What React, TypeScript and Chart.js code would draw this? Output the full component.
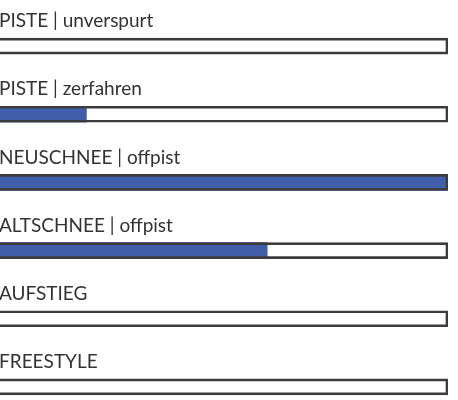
import React, { useEffect, useRef } from "react";
import { Chart, registerables } from "chart.js";

Chart.register(...registerables);

const categories = [
  "PISTE | unverspurt",
  "PISTE | zerfahren",
  "NEUSCHNEE | offpist",
  "ALTSCHNEE | offpist",
  "AUFSTIEG",
  "FREESTYLE",
];
const ratingValues = [0, 20, 100, 60, 0, 0];
const trackMax = [100, 100, 100, 100, 100, 100];

export default function App() {
  const canvasRef = useRef<HTMLCanvasElement | null>(null);

  useEffect(() => {
    const canvas = canvasRef.current;
    if (!canvas) return;
    const chart = new Chart(canvas, {
      type: "bar",
      data: {
        labels: categories,
        datasets: [
          {
            label: "Wert",
            data: ratingValues,
            backgroundColor: "#415eaa",
            borderWidth: 0,
            barThickness: 16,
            grouped: false,
            order: 2,
          },
          {
            label: "Rahmen",
            data: trackMax,
            backgroundColor: "rgba(0,0,0,0)",
            borderColor: "#3c3c3c",
            borderWidth: 2,
            borderSkipped: false,
            barThickness: 16,
            grouped: false,
            order: 1,
          },
        ],
      },
      options: {
        indexAxis: "y",
        responsive: false,
        maintainAspectRatio: false,
        animation: false,
        layout: { padding: { top: 12, left: 0, right: 0, bottom: 0 } },
        plugins: {
          legend: { display: false },
          tooltip: { enabled: false },
        },
        scales: {
          x: {
            display: false,
            min: 0,
            max: 100,
          },
          y: {
            afterFit: (scale: any) => {
              scale.width = 0;
              scale.paddingTop = 0;
              scale.paddingBottom = 0;
            },
            grid: { display: false, drawTicks: false },
            border: { display: false },
            ticks: {
              mirror: true,
              padding: 3,
              labelOffset: -25,
              color: "#333333",
              font: { family: "Lato", size: 19 },
            },
          },
        },
      },
    });
    return () => chart.destroy();
  }, []);

  return (
    <div
      style={{
        position: "absolute",
        left: 0,
        top: 0,
        width: 458,
        height: 400,
        overflow: "hidden",
        background: "#ffffff",
      }}
    >
      <div style={{ position: "absolute", left: -4, top: 0, width: 452, height: 421 }}>
        <canvas ref={canvasRef} width={452} height={421} style={{ display: "block" }} />
      </div>
    </div>
  );
}
